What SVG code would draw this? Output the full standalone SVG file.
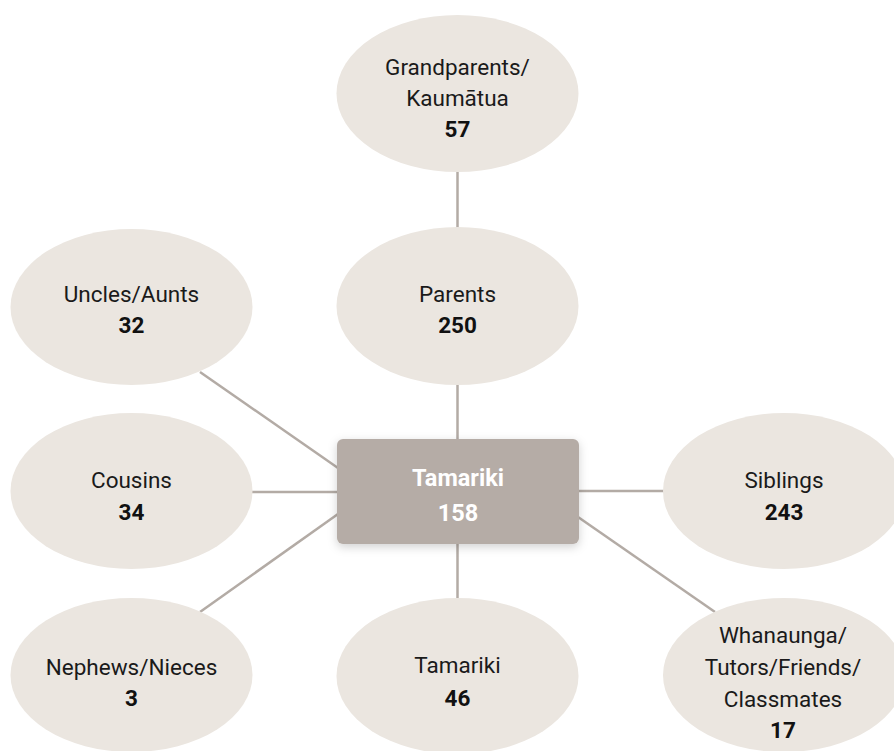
<svg xmlns="http://www.w3.org/2000/svg" width="894" height="751" viewBox="0 0 894 751">
<defs>
<filter id="sh" x="-20%" y="-30%" width="140%" height="160%">
<feDropShadow dx="0" dy="3" stdDeviation="5" flood-color="#000" flood-opacity="0.18"/>
</filter>
<style>
.e{fill:#ebe6e0}
.l{font-family:Roboto,"Noto Sans",sans-serif;font-size:22.5px;fill:#1a1a1a;text-anchor:middle}
.n{font-family:Roboto,"Noto Sans",sans-serif;font-size:22.5px;font-weight:700;fill:#111111;text-anchor:middle}
.c line{stroke:#b3aba5;stroke-width:2.5}
.w{font-family:Roboto,"Noto Sans",sans-serif;font-size:23.5px;font-weight:700;fill:#ffffff;text-anchor:middle}
</style>
</defs>
<rect width="894" height="751" fill="#ffffff"/>
<g id="connectors" class="c">
<line x1="457.5" y1="170" x2="457.5" y2="229"/>
<line x1="457.5" y1="383" x2="457.5" y2="440"/>
<line x1="200" y1="372" x2="338" y2="468"/>
<line x1="252" y1="492" x2="338" y2="492"/>
<line x1="338" y1="514" x2="200" y2="612"/>
<line x1="457.5" y1="543" x2="457.5" y2="599"/>
<line x1="578" y1="491" x2="664" y2="491"/>
<line x1="578" y1="517" x2="715" y2="612"/>
</g>
<g id="grandparents">
<ellipse class="e" cx="457.5" cy="93.5" rx="121" ry="78.5"/>
<text class="l" x="457.5" y="75">Grandparents/</text>
<text class="l" x="457.5" y="106">Kaumātua</text>
<text class="n" x="457.5" y="137">57</text>
</g>
<g id="parents">
<ellipse class="e" cx="457.5" cy="306" rx="121" ry="79"/>
<text class="l" x="457.5" y="302">Parents</text>
<text class="n" x="457.5" y="333">250</text>
</g>
<g id="uncles">
<ellipse class="e" cx="131.5" cy="307" rx="121" ry="78"/>
<text class="l" x="131.5" y="302">Uncles/Aunts</text>
<text class="n" x="131.5" y="333">32</text>
</g>
<g id="cousins">
<ellipse class="e" cx="131.5" cy="491" rx="121" ry="78"/>
<text class="l" x="131.5" y="488">Cousins</text>
<text class="n" x="131.5" y="520">34</text>
</g>
<g id="nephews">
<ellipse class="e" cx="131.5" cy="675" rx="121" ry="77"/>
<text class="l" x="131.5" y="675">Nephews/Nieces</text>
<text class="n" x="131.5" y="706">3</text>
</g>
<g id="tamariki-child">
<ellipse class="e" cx="457.5" cy="676" rx="121" ry="78"/>
<text class="l" x="457.5" y="673">Tamariki</text>
<text class="n" x="457.5" y="706">46</text>
</g>
<g id="siblings">
<ellipse class="e" cx="784" cy="491" rx="121" ry="78"/>
<text class="l" x="784" y="488">Siblings</text>
<text class="n" x="784" y="520">243</text>
</g>
<g id="whanaunga">
<ellipse class="e" cx="784" cy="675" rx="121" ry="77"/>
<text class="l" x="783" y="643">Whanaunga/</text>
<text class="l" x="783" y="675">Tutors/Friends/</text>
<text class="l" x="783" y="707">Classmates</text>
<text class="n" x="783" y="738">17</text>
</g>
<g id="tamariki-center">
<rect x="337" y="439" width="242" height="105" rx="6" fill="#b5aca6" filter="url(#sh)"/>
<text class="w" x="458" y="486">Tamariki</text>
<text class="w" x="458" y="521">158</text>
</g>
</svg>
